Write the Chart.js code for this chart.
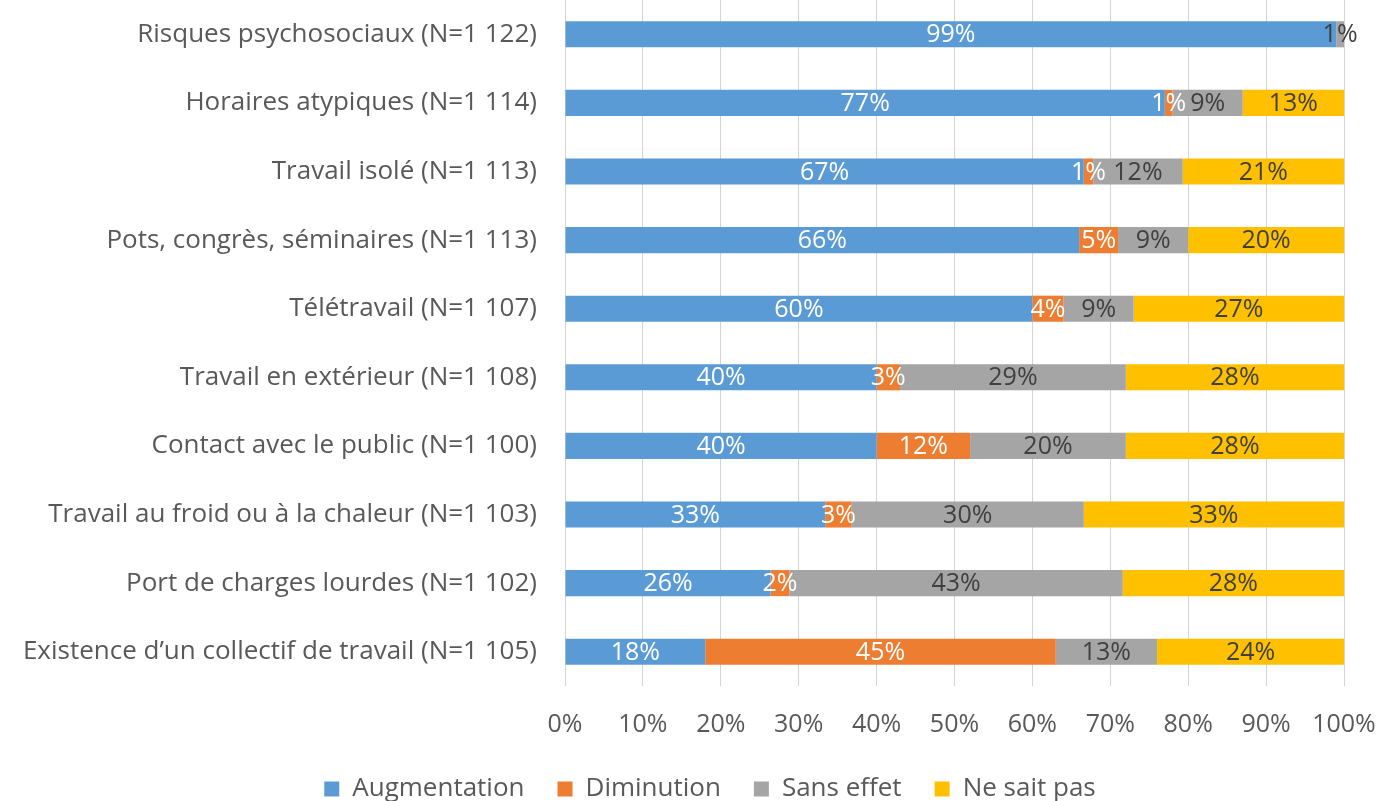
<!DOCTYPE html>
<html>
<head>
<meta charset="utf-8">
<script src="https://cdn.jsdelivr.net/npm/chart.js@4.4.1/dist/chart.umd.min.js"></script>
<style>
  html, body { margin: 0; padding: 0; background: #ffffff; }
  #wrap { width: 1379px; height: 801px; position: relative; }
</style>
</head>
<body>
<div id="wrap"><canvas id="c"></canvas></div>
<script>
const categories = [
  "Risques psychosociaux (N=1 122)",
  "Horaires atypiques (N=1 114)",
  "Travail isolé (N=1 113)",
  "Pots, congrès, séminaires (N=1 113)",
  "Télétravail (N=1 107)",
  "Travail en extérieur (N=1 108)",
  "Contact avec le public (N=1 100)",
  "Travail au froid ou à la chaleur (N=1 103)",
  "Port de charges lourdes (N=1 102)",
  "Existence d’un collectif de travail (N=1 105)"
];
const seriesNames = ["Augmentation", "Diminution", "Sans effet", "Ne sait pas"];
const augmentation = [99, 77, 66.6, 66, 60, 40, 40, 33.4, 26.4, 18];
const diminution   = [0, 1, 1.2, 5, 4, 3, 12, 3.4, 2.4, 45];
const sansEffet    = [1, 9, 11.5, 9, 9, 29, 20, 29.8, 42.8, 13];
const neSaitPas    = [0, 13, 20.7, 20, 27, 28, 28, 33.4, 28.4, 24];
const xTickValues  = [0, 10, 20, 30, 40, 50, 60, 70, 80, 90, 100];

const colors = ["#5B9BD5", "#ED7D31", "#A5A5A5", "#FFC000"];
const labelColors = ["#ffffff", "#ffffff", "#404040", "#404040"];
const FONT = "'Open Sans', 'DejaVu Sans', sans-serif";

const dataLabelPlugin = {
  id: 'segLabels',
  afterDatasetsDraw(chart) {
    const ctx = chart.ctx;
    ctx.save();
    ctx.font = "25px " + FONT;
    ctx.textAlign = 'center';
    ctx.textBaseline = 'middle';
    chart.data.datasets.forEach((ds, di) => {
      const meta = chart.getDatasetMeta(di);
      if (meta.hidden) return;
      meta.data.forEach((el, i) => {
        const v = ds.data[i];
        if (!v) return;
        const x = (el.x + el.base) / 2;
        ctx.fillStyle = labelColors[di];
        ctx.fillText(Math.round(v) + '%', x, el.y + 1);
      });
    });
    ctx.restore();
  }
};

const legendShift = {
  id: 'legendShift',
  afterLayout(chart) {
    const lg = chart.legend;
    if (lg) { lg.left += 38; lg.right += 38; lg.top += 2; lg.bottom += 2; }
  }
};

new Chart(document.getElementById('c'), {
  type: 'bar',
  data: {
    labels: categories,
    datasets: [augmentation, diminution, sansEffet, neSaitPas].map((d, i) => ({
      label: seriesNames[i],
      data: d,
      backgroundColor: colors[i],
      borderWidth: 0,
      barPercentage: 0.38,
      categoryPercentage: 1.0
    }))
  },
  options: {
    indexAxis: 'y',
    responsive: true,
    maintainAspectRatio: false,
    animation: false,
    layout: { padding: { top: 0, right: 35, bottom: 0, left: 0 } },
    scales: {
      x: {
        stacked: true,
        min: 0,
        max: 100,
        afterBuildTicks: (scale) => { scale.ticks = xTickValues.map(v => ({ value: v })); },
        afterFit: (scale) => {
          scale.height = 55;
          scale.paddingLeft = 0;
          scale.paddingRight = 0;
        },
        grid: { color: '#d4d4d4', lineWidth: 1, drawTicks: false },
        border: { display: false },
        ticks: {
          padding: 24,
          color: '#595959',
          font: { family: FONT, size: 25 },
          callback: (v) => v + '%'
        }
      },
      y: {
        stacked: true,
        grid: { display: false, drawTicks: false },
        border: { display: false },
        ticks: {
          padding: 28,
          color: '#595959',
          font: { family: FONT, size: 26 },
          autoSkip: false
        },
        afterFit: (scale) => {
          scale.width = 565;
          scale.paddingTop = 0;
          scale.paddingBottom = 0;
        }
      }
    },
    plugins: {
      legend: {
        position: 'bottom',
        maxHeight: 60,
        labels: {
          boxWidth: 15,
          boxHeight: 15,
          padding: 33,
          color: '#595959',
          font: { family: FONT, size: 26 }
        }
      },
      tooltip: { enabled: false }
    }
  },
  plugins: [dataLabelPlugin, legendShift]
});
</script>
</body>
</html>
